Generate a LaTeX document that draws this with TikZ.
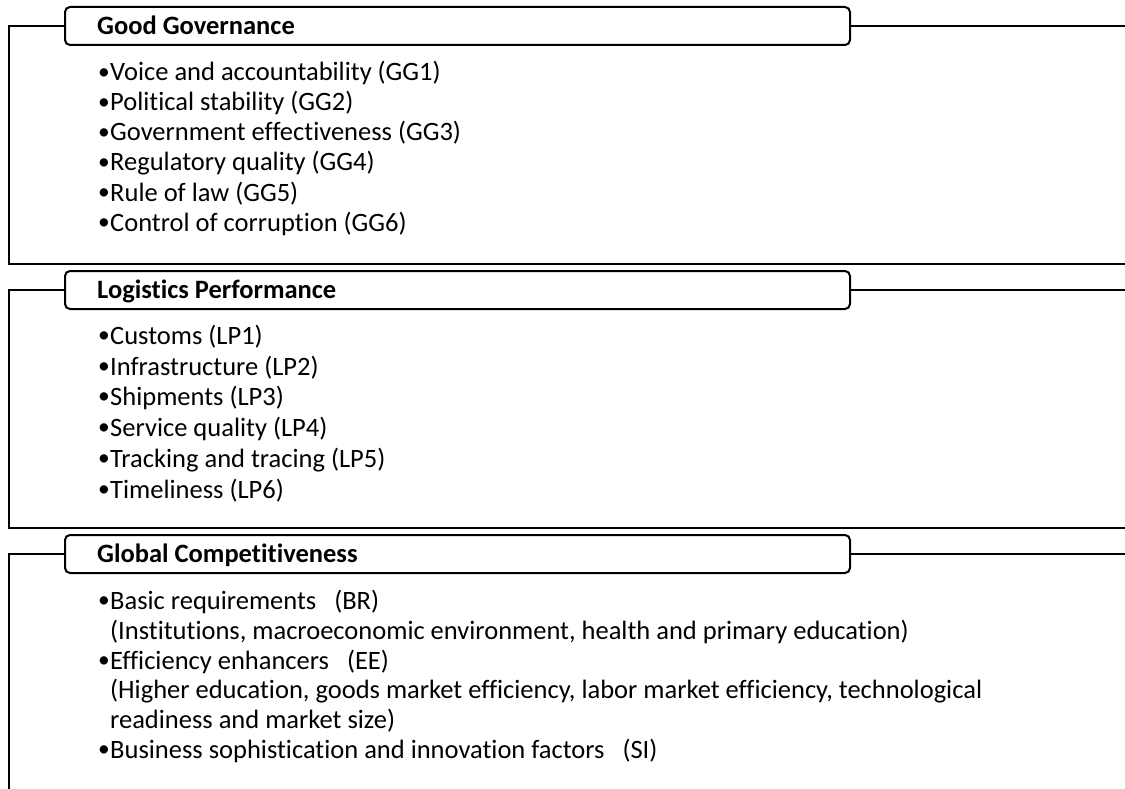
\documentclass[tikz,border=0pt]{standalone}
\usepackage{fontspec}
\setmainfont{Carlito}[RawFeature={-liga}]
\newcommand\mybul{\makebox[12pt][l]{\raisebox{1.2pt}{\fontsize{23.5}{23.5}\selectfont •}}}
\begin{document}
\begin{tikzpicture}[x=1pt,y=-1pt,
  frame/.style={line width=2pt},
  link/.style={line width=1.4pt},
  titlebox/.style={draw,line width=2pt,rounded corners=5pt,minimum width=785pt,minimum height=38pt,inner sep=0pt,outer sep=0pt,anchor=north west},
  ttl/.style={anchor=base west,inner sep=0pt,font=\fontsize{26.5}{30}\selectfont\bfseries},
  item/.style={anchor=base west,inner sep=0pt,font=\fontsize{26.5}{30}\selectfont}]
\useasboundingbox (0,0) rectangle (1125,789);
% Section 1
\node[titlebox] (b1) at (65,7) {};
\node[ttl] (t1) at (97,35) {Good Governance};
\coordinate (l1b) at (9,264);
\coordinate (l1c) at (1125,264);
\coordinate (r1) at (1125,0);
\draw[frame] (b1.west) -- (b1.west -| l1b) -- (l1b) -- (l1c);
\draw[link] (b1.east) -- (b1.east -| r1);
\node[item] (g1) at (98,81) {\mybul Voice and accountability (GG1)};
\node[item] (g2) at (98,111) {\mybul Political stability (GG2)};
\node[item] (g3) at (98,141) {\mybul Government effectiveness (GG3)};
\node[item] (g4) at (98,171) {\mybul Regulatory quality (GG4)};
\node[item] (g5) at (98,201) {\mybul Rule of law (GG5)};
\node[item] (g6) at (98,231) {\mybul Control of corruption (GG6)};
% Section 2
\node[titlebox] (b2) at (65,271) {};
\node[ttl] (t2) at (97,298) {Logistics Performance};
\coordinate (l2b) at (9,528);
\coordinate (l2c) at (1125,528);
\draw[frame] (b2.west) -- (b2.west -| l2b) -- (l2b) -- (l2c);
\draw[link] (b2.east) -- (b2.east -| r1);
\node[item] (p1) at (98,344) {\mybul Customs (LP1)};
\node[item] (p2) at (98,375) {\mybul Infrastructure (LP2)};
\node[item] (p3) at (98,405) {\mybul Shipments (LP3)};
\node[item] (p4) at (98,436) {\mybul Service quality (LP4)};
\node[item] (p5) at (98,467) {\mybul Tracking and tracing (LP5)};
\node[item] (p6) at (98,498) {\mybul Timeliness (LP6)};
% Section 3
\node[titlebox] (b3) at (65,535) {};
\node[ttl] (t3) at (97,562) {Global Competitiveness};
\coordinate (l3b) at (9,789);
\draw[frame] (b3.west) -- (b3.west -| l3b) -- (l3b);
\draw[link] (b3.east) -- (b3.east -| r1);
\node[item] (c1) at (98,609) {\mybul Basic requirements\ \ \ (BR)};
\node[item] (c2) at (110,639) {(Institutions, macroeconomic environment, health and primary education)};
\node[item] (c3) at (98,669) {\mybul Efficiency enhancers\ \ \ (EE)};
\node[item] (c4) at (110,698) {(Higher education, goods market efficiency, labor market efficiency, technological};
\node[item] (c5) at (110,728) {readiness and market size)};
\node[item] (c6) at (98,758) {\mybul Business sophistication and innovation factors\ \ \ (SI)};
\end{tikzpicture}
\end{document}
